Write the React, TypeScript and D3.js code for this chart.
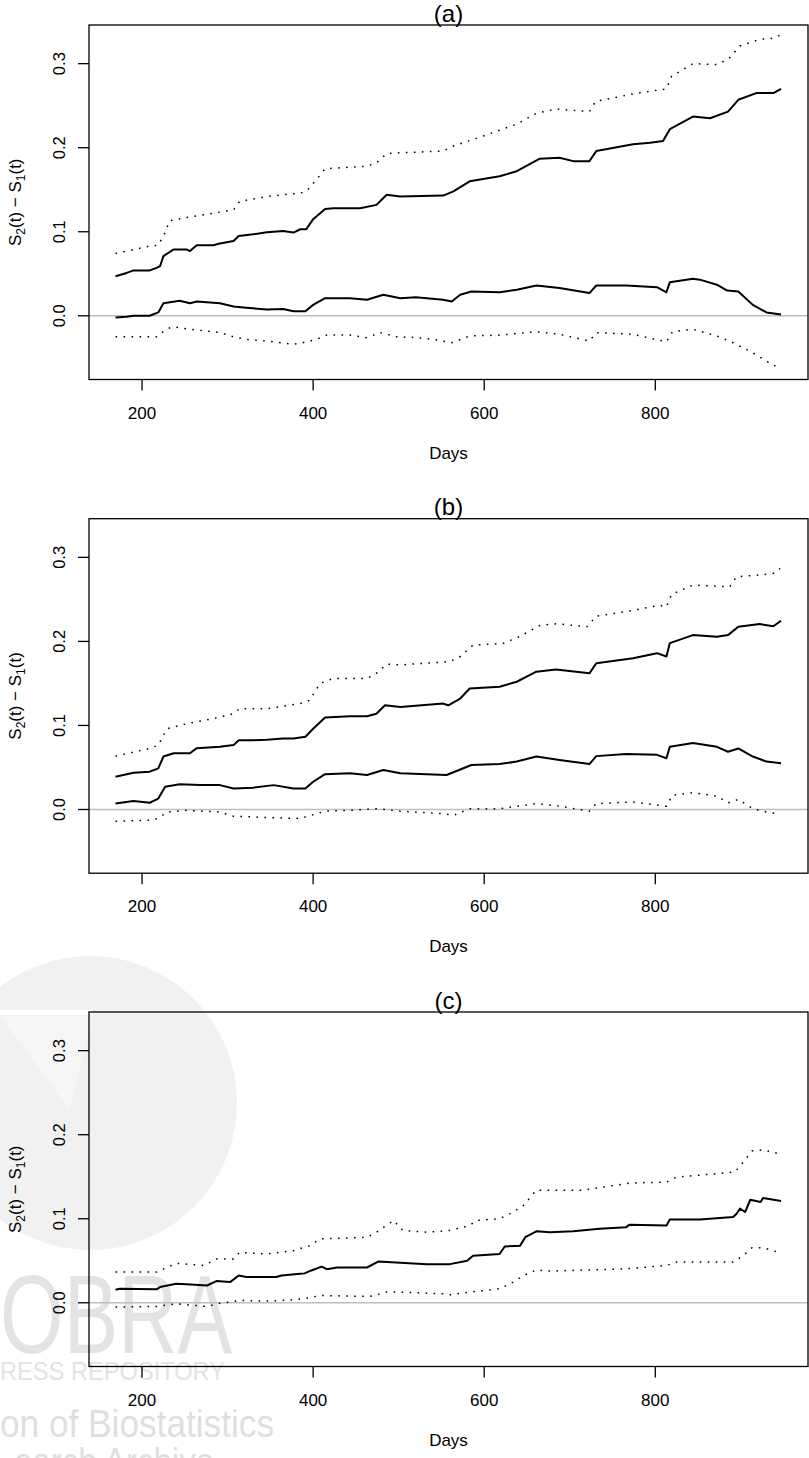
import React from "react";
import * as d3 from "d3";

type Pt = [number, number];

const panelTitles = ["(a)", "(b)", "(c)"];
const xTicks = [200, 400, 600, 800];
const yTicks = [0, 0.1, 0.2, 0.3];
const yTickLabels = ["0.0", "0.1", "0.2", "0.3"];
const xLabel = "Days";

// Panel (a)
const aSolidHigh: Pt[] = [[169,0.047],[182,0.051],[190,0.054],[209,0.054],[217,0.057],[221,0.059],[225,0.071],[237,0.079],[252,0.079],[256,0.077],[264,0.084],[283,0.084],[291,0.086],[307,0.089],[313,0.095],[330,0.097],[346,0.0995],[365,0.101],[377,0.099],[385,0.103],[392,0.103],[400,0.115],[414,0.127],[424,0.128],[455,0.128],[474,0.132],[486,0.144],[502,0.142],[552,0.143],[564,0.148],[583,0.160],[618,0.166],[638,0.172],[665,0.187],[688,0.188],[704,0.184],[723,0.184],[731,0.196],[774,0.204],[794,0.206],[809,0.208],[817,0.222],[844,0.237],[864,0.235],[885,0.243],[897,0.257],[918,0.265],[938,0.265],[947,0.270]];
const aSolidLow: Pt[] = [[169,-0.002],[182,-0.001],[190,0.000],[209,0.000],[219,0.004],[225,0.015],[244,0.018],[256,0.015],[264,0.017],[291,0.015],[307,0.011],[322,0.0095],[346,0.0075],[365,0.008],[377,0.0055],[391,0.0055],[400,0.013],[414,0.021],[443,0.021],[463,0.019],[482,0.025],[502,0.021],[520,0.022],[552,0.019],[562,0.017],[572,0.025],[585,0.029],[618,0.028],[638,0.031],[661,0.036],[688,0.033],[723,0.027],[731,0.036],[766,0.036],[802,0.034],[813,0.028],[817,0.040],[844,0.044],[852,0.043],[872,0.037],[884,0.030],[897,0.029],[914,0.013],[930,0.004],[947,0.0015]];
const aDotHigh: Pt[] = [[169,0.074],[209,0.083],[219,0.084],[227,0.099],[232,0.113],[252,0.117],[307,0.126],[314,0.136],[346,0.142],[385,0.146],[392,0.148],[404,0.162],[414,0.175],[463,0.178],[474,0.182],[486,0.193],[502,0.194],[552,0.196],[564,0.202],[599,0.214],[638,0.228],[661,0.241],[684,0.246],[723,0.243],[730,0.255],[774,0.264],[813,0.270],[819,0.285],[844,0.300],[872,0.299],[885,0.305],[899,0.321],[922,0.329],[938,0.330],[947,0.3345]];
const aDotLow: Pt[] = [[169,-0.025],[217,-0.025],[229,-0.0155],[237,-0.013],[252,-0.0155],[291,-0.020],[307,-0.025],[322,-0.028],[346,-0.030],[377,-0.034],[388,-0.032],[404,-0.028],[416,-0.023],[443,-0.023],[463,-0.026],[478,-0.020],[502,-0.026],[510,-0.025],[540,-0.028],[562,-0.032],[583,-0.024],[618,-0.023],[661,-0.019],[688,-0.022],[723,-0.030],[731,-0.020],[774,-0.022],[813,-0.031],[820,-0.019],[844,-0.016],[872,-0.024],[891,-0.032],[914,-0.044],[930,-0.054],[944,-0.062]];

// Panel (b)
const bSolidHigh: Pt[] = [[169,0.039],[190,0.0437],[209,0.045],[219,0.049],[225,0.063],[237,0.067],[256,0.067],[264,0.073],[291,0.0746],[307,0.0766],[313,0.0825],[330,0.0825],[346,0.083],[365,0.0845],[377,0.0845],[391,0.0865],[400,0.096],[414,0.1095],[443,0.111],[463,0.111],[474,0.114],[484,0.124],[502,0.122],[552,0.126],[558,0.124],[572,0.132],[583,0.144],[618,0.146],[638,0.152],[661,0.164],[684,0.1667],[723,0.162],[731,0.174],[774,0.180],[802,0.186],[813,0.182],[817,0.198],[844,0.2075],[872,0.2056],[885,0.2075],[897,0.2175],[922,0.2206],[938,0.218],[947,0.2246]];
const bSolidLow: Pt[] = [[169,0.007],[190,0.010],[209,0.008],[219,0.013],[227,0.027],[244,0.030],[268,0.029],[291,0.029],[307,0.025],[330,0.026],[354,0.029],[377,0.025],[391,0.025],[400,0.033],[414,0.042],[443,0.043],[463,0.041],[482,0.047],[502,0.043],[556,0.041],[572,0.0476],[585,0.053],[618,0.054],[638,0.057],[661,0.063],[688,0.059],[723,0.054],[731,0.0635],[766,0.066],[802,0.065],[813,0.061],[817,0.0746],[844,0.079],[872,0.0746],[885,0.0687],[897,0.0726],[914,0.063],[930,0.057],[947,0.055]];
const bDotHigh: Pt[] = [[169,0.0635],[209,0.0726],[219,0.0766],[229,0.096],[252,0.102],[283,0.108],[307,0.114],[314,0.120],[346,0.120],[385,0.126],[396,0.130],[408,0.150],[424,0.156],[463,0.156],[474,0.162],[486,0.173],[502,0.172],[560,0.176],[572,0.182],[587,0.1956],[622,0.1976],[641,0.2056],[665,0.219],[684,0.221],[720,0.2175],[731,0.230],[774,0.237],[805,0.243],[813,0.241],[819,0.256],[844,0.267],[887,0.265],[895,0.277],[922,0.279],[938,0.281],[946,0.287]];
const bDotLow: Pt[] = [[169,-0.014],[209,-0.0127],[219,-0.0107],[229,-0.003],[252,-0.001],[291,-0.003],[307,-0.008],[346,-0.0095],[385,-0.0107],[404,-0.005],[414,-0.002],[443,-0.001],[474,0.001],[502,-0.002],[552,-0.005],[564,-0.007],[583,0.001],[618,0.001],[661,0.007],[688,0.004],[723,-0.002],[731,0.007],[774,0.009],[813,0.004],[820,0.017],[844,0.020],[872,0.016],[885,0.008],[897,0.012],[914,0.001],[930,-0.003],[946,-0.0055]];

// Panel (c)
const cSolid: Pt[] = [[169,0.0155],[174,0.0167],[217,0.016],[221,0.0187],[240,0.0226],[252,0.022],[276,0.0206],[287,0.0258],[303,0.0246],[313,0.0325],[322,0.0306],[346,0.0306],[357,0.0306],[363,0.0325],[385,0.0345],[390,0.035],[398,0.0385],[410,0.043],[416,0.040],[428,0.042],[463,0.042],[476,0.049],[502,0.0476],[533,0.046],[560,0.046],[580,0.050],[587,0.056],[618,0.058],[624,0.067],[642,0.068],[648,0.078],[661,0.085],[677,0.084],[704,0.085],[735,0.088],[766,0.090],[770,0.093],[813,0.092],[817,0.099],[852,0.099],[891,0.102],[895,0.106],[899,0.112],[905,0.108],[911,0.1226],[923,0.120],[926,0.1246],[947,0.121]];
const cDotHigh: Pt[] = [[169,0.0365],[217,0.0365],[240,0.047],[272,0.0444],[287,0.052],[307,0.052],[314,0.060],[346,0.058],[377,0.062],[396,0.068],[408,0.076],[463,0.078],[474,0.084],[494,0.098],[505,0.086],[533,0.084],[560,0.086],[583,0.092],[591,0.098],[618,0.100],[634,0.108],[646,0.116],[661,0.134],[716,0.134],[735,0.137],[770,0.1425],[813,0.1437],[825,0.1496],[876,0.154],[893,0.1556],[903,0.1675],[913,0.1806],[926,0.182],[942,0.178]];
const cDotLow: Pt[] = [[169,-0.005],[217,-0.0044],[240,-0.0012],[276,-0.0044],[287,-0.0012],[307,0.0016],[314,0.0028],[346,0.002],[377,0.0036],[396,0.006],[408,0.0087],[466,0.0075],[486,0.0127],[502,0.0127],[552,0.0107],[560,0.0095],[583,0.0127],[618,0.0167],[634,0.0246],[646,0.0325],[661,0.039],[677,0.0377],[766,0.0405],[813,0.0444],[825,0.0484],[891,0.0484],[903,0.0563],[913,0.0655],[926,0.0655],[944,0.060]];

const panelSolids: Pt[][][] = [[aSolidHigh, aSolidLow], [bSolidHigh, bSolidLow], [cSolid]];
const panelDots: Pt[][][] = [[aDotHigh, aDotLow], [bDotHigh, bDotLow], [cDotHigh, cDotLow]];

const W = 809;
const H = 1458;
const LEFT = 89;
const RIGHT = 808;
const PANEL_TOPS = [25, 518.7, 1012];
const PANEL_H = 354.5;
const FONT = "'Liberation Sans', Arial, Helvetica, sans-serif";

const x = d3.scaleLinear().domain([138, 978.5]).range([LEFT, RIGHT]);

function Panel({ idx }: { idx: number }) {
  const top = PANEL_TOPS[idx];
  const bottom = top + PANEL_H;
  const y = d3.scaleLinear().domain([-0.0758, 0.346]).range([bottom, top]);
  const line = d3
    .line<Pt>()
    .x((d) => x(d[0]))
    .y((d) => y(d[1]));
  const midY = (top + bottom) / 2;
  return (
    <g>
      <line x1={LEFT} x2={RIGHT} y1={y(0)} y2={y(0)} stroke="#bebebe" strokeWidth={1.5} />
      {panelDots[idx].map((s, i) => (
        <path key={"d" + i} d={line(s) || ""} fill="none" stroke="#000" strokeWidth={1.5} strokeDasharray="1.6 6.4" />
      ))}
      {panelSolids[idx].map((s, i) => (
        <path key={"s" + i} d={line(s) || ""} fill="none" stroke="#000" strokeWidth={2} strokeLinejoin="round" />
      ))}
      <rect x={LEFT} y={top} width={RIGHT - LEFT} height={PANEL_H} fill="none" stroke="#000" strokeWidth={1.3} />
      {xTicks.map((t) => (
        <g key={"x" + t}>
          <line x1={x(t)} x2={x(t)} y1={bottom} y2={bottom + 11} stroke="#000" strokeWidth={1.3} />
          <text x={x(t)} y={bottom + 39} textAnchor="middle" fontSize={17} fontFamily={FONT} fill="#000">
            {t}
          </text>
        </g>
      ))}
      <text x={(LEFT + RIGHT) / 2} y={bottom + 79} textAnchor="middle" fontSize={17} fontFamily={FONT} fill="#000">
        {xLabel}
      </text>
      {yTicks.map((t, i) => (
        <g key={"y" + t}>
          <line x1={LEFT - 11} x2={LEFT} y1={y(t)} y2={y(t)} stroke="#000" strokeWidth={1.3} />
          <text
            transform={`translate(65,${y(t)}) rotate(-90)`}
            textAnchor="middle"
            fontSize={16.5}
            fontFamily={FONT}
            fill="#000"
          >
            {yTickLabels[i]}
          </text>
        </g>
      ))}
      <text transform={`translate(21,${midY}) rotate(-90)`} textAnchor="middle" fontSize={17} fontFamily={FONT} fill="#000">
        <tspan>S</tspan>
        <tspan fontSize={12} dy={4}>2</tspan>
        <tspan dy={-4}>(t) − S</tspan>
        <tspan fontSize={12} dy={4}>1</tspan>
        <tspan dy={-4}>(t)</tspan>
      </text>
      <text x={(LEFT + RIGHT) / 2} y={top - 3.3} textAnchor="middle" fontSize={24} fontFamily={FONT} fill="#000">
        {panelTitles[idx]}
      </text>
    </g>
  );
}

function Watermark() {
  return (
    <g>
      <circle cx={90} cy={1103} r={147} fill="#f1f1f1" />
      <rect x={0} y={1010} width={92} height={5} fill="#fff" />
      <path d="M0,1016 L92,1016 L70,1110 Z" fill="#f6f6f6" />
      <text x={0} y={1353} fontSize={112} fontFamily={FONT} fill="#e3e3e3" textLength={232} lengthAdjust="spacingAndGlyphs">
        OBRA
      </text>
      <text x={0} y={1380} fontSize={26} fontFamily={FONT} fill="#e3e3e3" textLength={225} lengthAdjust="spacingAndGlyphs">
        RESS  REPOSITORY
      </text>
      <text x={0} y={1437} fontSize={38} fontFamily={FONT} fill="#dfdfdf" textLength={274} lengthAdjust="spacingAndGlyphs">
        on of Biostatistics
      </text>
      <text x={14} y={1475} fontSize={38} fontFamily={FONT} fill="#dfdfdf" textLength={200} lengthAdjust="spacingAndGlyphs">
        earch Archive
      </text>
    </g>
  );
}

export default function App() {
  return (
    <svg
      width={W}
      height={H}
      style={{ position: "absolute", left: 0, top: 0, background: "#fff" }}
      xmlns="http://www.w3.org/2000/svg"
    >
      <rect x={0} y={0} width={W} height={H} fill="#fff" />
      <Watermark />
      {[0, 1, 2].map((i) => (
        <Panel key={i} idx={i} />
      ))}
    </svg>
  );
}
